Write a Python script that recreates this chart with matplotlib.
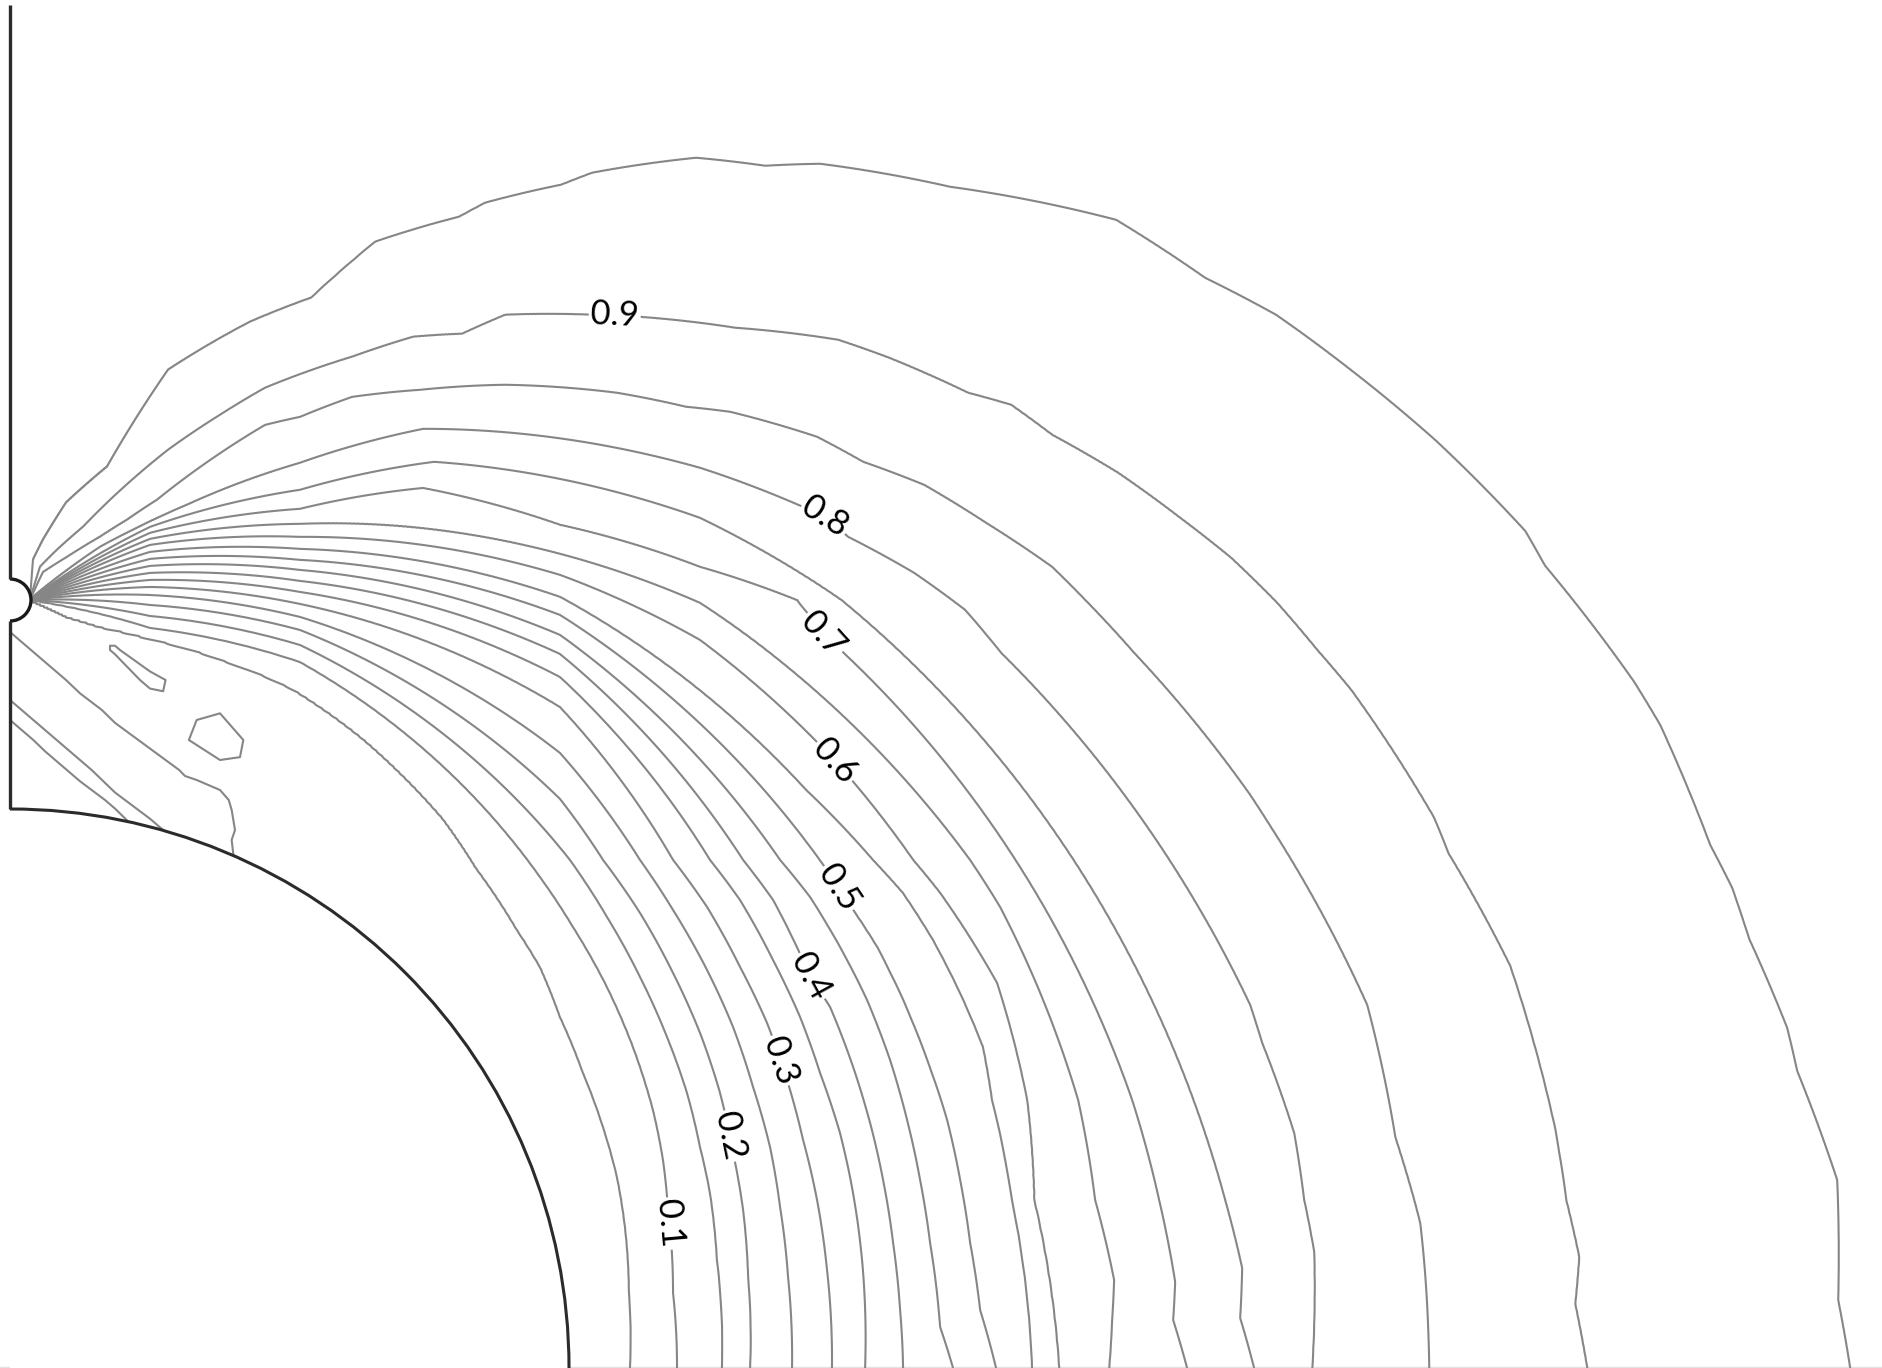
import numpy as np
import matplotlib
matplotlib.use("Agg")
import matplotlib.pyplot as plt
import matplotlib.tri as mtri
from matplotlib.patches import Wedge, Arc

plt.rcParams['font.family'] = ['Lato', 'DejaVu Sans']

# Geometry (lengths in cm; origin at the centre of the grounded sphere)
SPHERE_RADIUS = 5.59
TIP_CENTER_Y = 7.68
TIP_RADIUS = 0.21
WALL_TOP = 13.63
TIP_POINT = (0.20, 7.68)          # where every isoline leaves the needle tip

LEVELS = [0.05, 0.10, 0.15, 0.20, 0.25, 0.30, 0.35, 0.40, 0.45, 0.50,
          0.55, 0.60, 0.65, 0.70, 0.75, 0.80, 0.85, 0.90, 0.95]
LABEL_LEVELS = [0.10, 0.20, 0.30, 0.40, 0.50, 0.60, 0.70, 0.80, 0.90]
LABEL_POS = [(6.55, 1.44), (7.15, 2.31), (7.63, 3.05), (8.00, 3.91), (8.30, 4.81),
             (8.25, 6.07), (8.13, 7.34), (8.15, 8.51), (6.05, 10.50)]

# Isoline positions (x, y) of the normalised potential
ISO_005 = [(6.20, 0.00), (6.19, 0.75), (6.15, 1.41), (6.07, 1.91), (5.93, 2.41), (5.73, 2.95),
           (5.50, 3.51), (5.30, 4.01), (5.07, 4.38), (4.66, 5.00), (4.33, 5.49), (3.88, 5.97),
           (3.53, 6.29), (3.23, 6.52), (2.84, 6.78), (2.47, 6.95), (2.17, 7.06), (1.82, 7.18),
           (1.40, 7.29), (0.90, 7.41), (0.57, 7.51)]
ISO_010 = [(6.67, 0.00), (6.63, 0.75), (6.58, 1.58), (6.53, 2.08), (6.43, 2.58), (6.23, 3.21),
           (5.97, 3.81), (5.63, 4.41), (5.30, 4.91), (2.90, 7.06), (1.40, 7.40)]
ISO_015 = [(7.12, 0.00), (7.07, 1.08), (7.00, 1.75), (6.90, 2.21), (6.77, 2.75), (6.57, 3.31),
           (6.30, 3.91), (5.97, 4.51), (5.60, 5.08), (2.90, 7.23), (1.40, 7.52)]
ISO_020 = [(7.40, 0.00), (7.38, 0.91), (7.33, 1.58), (7.23, 2.15), (7.10, 2.75), (6.90, 3.35),
           (6.63, 3.95), (6.30, 4.55), (5.93, 5.08), (5.50, 5.69), (2.90, 7.38), (1.40, 7.63)]
ISO_025 = [(7.82, 0.00), (7.78, 0.91), (7.70, 1.61), (7.60, 2.21), (7.43, 2.81), (7.23, 3.41),
           (6.97, 3.98), (6.63, 4.58), (6.30, 5.08), (5.50, 6.15), (2.90, 7.51), (1.40, 7.73)]
ISO_030 = [(8.22, 0.00), (8.17, 0.98), (8.07, 1.68), (7.93, 2.28), (7.77, 2.88), (7.57, 3.45),
           (7.30, 4.01), (6.97, 4.61), (6.63, 5.08), (5.50, 6.61), (2.90, 7.64), (1.40, 7.81)]
ISO_035 = [(8.55, 0.00), (8.52, 1.08), (8.43, 1.75), (8.30, 2.35), (8.10, 2.95), (7.90, 3.51),
           (7.63, 4.08), (7.30, 4.68), (7.00, 5.08), (5.50, 6.91), (2.90, 7.76), (1.40, 7.88)]
ISO_040 = [(8.93, 0.00), (8.90, 0.58), (8.83, 1.25), (8.73, 1.88), (8.60, 2.45), (8.43, 3.01),
           (8.20, 3.61), (8.00, 3.91), (7.63, 4.68), (7.33, 5.08), (5.50, 7.14), (2.90, 7.87),
           (1.40, 7.95)]
ISO_045 = [(9.43, 0.00), (9.30, 0.41), (9.20, 1.25), (9.10, 1.88), (8.97, 2.48), (8.80, 3.08),
           (8.57, 3.68), (8.30, 4.21), (8.00, 4.71), (7.70, 5.08), (5.50, 7.33), (2.90, 7.98),
           (1.40, 8.02)]
ISO_050 = [(9.86, 0.00), (9.70, 0.58), (9.60, 1.25), (9.50, 1.88), (9.37, 2.48), (9.17, 3.08),
           (8.93, 3.68), (8.67, 4.21), (8.43, 4.58), (8.31, 4.77), (5.50, 7.53), (2.90, 8.08),
           (1.40, 8.09)]
ISO_055 = [(10.22, 0.00), (10.02, 1.68), (9.82, 2.68), (9.73, 3.21), (9.50, 3.75), (9.23, 4.28),
           (8.93, 4.75), (8.63, 5.08), (7.96, 5.78), (5.50, 7.71), (2.90, 8.19), (1.40, 8.16)]
ISO_060 = [(10.49, 0.00), (10.24, 1.68), (10.17, 2.68), (9.87, 3.85), (9.57, 4.35), (9.30, 4.75),
           (9.03, 5.08), (8.25, 6.07), (6.90, 7.28), (5.50, 7.93), (2.90, 8.31), (1.40, 8.23)]
ISO_065 = [(10.99, 0.00), (11.02, 0.48), (11.04, 0.88), (10.85, 1.68), (10.68, 2.68), (9.90, 4.61),
           (9.60, 5.08), (6.90, 7.65), (5.50, 8.14), (2.90, 8.44), (1.40, 8.29)]
ISO_070 = [(11.77, 0.00), (11.63, 0.48), (11.65, 0.86), (11.49, 1.68), (11.22, 2.68), (8.13, 7.34),
           (7.87, 7.68), (6.90, 8.01), (5.50, 8.43), (4.13, 8.80), (2.90, 8.59), (1.40, 8.35)]
ISO_075 = [(12.44, 0.00), (12.30, 0.50), (12.32, 1.00), (12.15, 1.68), (8.31, 7.68), (6.90, 8.50),
           (4.24, 9.06), (2.90, 8.78), (1.40, 8.41)]
ISO_080 = [(13.02, 0.00), (13.04, 1.16), (12.94, 1.68), (12.84, 2.35), (12.52, 3.25), (12.40, 3.63),
           (9.91, 7.15), (9.55, 7.58), (9.04, 7.95), (8.38, 8.31), (8.15, 8.51), (6.90, 9.00),
           (4.13, 9.39), (2.90, 9.05), (1.77, 8.63), (1.50, 8.51), (1.23, 8.38), (0.90, 8.21)]
ISO_085 = [(14.19, 0.00), (14.10, 1.45), (14.04, 1.68), (13.85, 2.31), (13.57, 3.63), (12.60, 5.42),
           (12.40, 5.73), (11.24, 7.15), (10.75, 7.68), (10.42, 8.01), (9.76, 8.45), (9.14, 8.83),
           (8.53, 9.06), (8.07, 9.31), (7.20, 9.56), (6.76, 9.61), (6.07, 9.75), (4.95, 9.83),
           (4.10, 9.78), (3.42, 9.71), (2.90, 9.51), (2.55, 9.43), (1.47, 8.68), (1.17, 8.48),
           (0.90, 8.31), (0.57, 8.11), (0.33, 7.96)]
ISO_090 = [(15.77, 0.00), (15.65, 0.64), (15.69, 1.11), (15.56, 1.68), (15.45, 2.39), (15.00, 4.02),
           (14.38, 5.15), (14.24, 5.50), (13.41, 6.78), (13.07, 7.18), (12.67, 7.65), (12.21, 8.10),
           (11.70, 8.50), (11.08, 8.95), (10.42, 9.33), (10.01, 9.63), (9.58, 9.75), (8.79, 10.10),
           (8.28, 10.28), (7.25, 10.40), (6.28, 10.51), (5.82, 10.53), (4.95, 10.53), (4.52, 10.34),
           (4.03, 10.31), (3.42, 10.11), (2.55, 9.80), (2.10, 9.53), (1.58, 9.18), (1.00, 8.68),
           (0.73, 8.41), (0.47, 8.18), (0.30, 8.01)]
ISO_095 = [(18.40, 0.00), (18.28, 0.68), (18.27, 1.88), (17.87, 2.97), (17.77, 3.40), (17.39, 4.29),
           (17.22, 4.80), (17.00, 5.23), (16.50, 6.43), (16.24, 6.86), (15.35, 8.02), (15.15, 8.37),
           (14.26, 9.27), (13.38, 10.00), (12.66, 10.53), (11.95, 10.90), (11.06, 11.48),
           (9.40, 11.81), (8.10, 12.04), (7.55, 12.02), (6.86, 12.10), (5.82, 11.95), (5.51, 11.83),
           (4.75, 11.65), (4.49, 11.51), (3.65, 11.26), (3.01, 10.70), (2.40, 10.46), (1.58, 9.98),
           (0.97, 9.01), (0.56, 8.65), (0.33, 8.28), (0.23, 8.08)]

ISOLINES = [ISO_005, ISO_010, ISO_015, ISO_020, ISO_025, ISO_030, ISO_035, ISO_040, ISO_045,
            ISO_050, ISO_055, ISO_060, ISO_065, ISO_070, ISO_075, ISO_080, ISO_085, ISO_090,
            ISO_095]

# Coarse-mesh nodal values of the near-zero region under the tip
NOISE_X = [0.0, 0.35, 0.70, 1.05, 1.40, 1.75, 2.10, 2.45]
NOISE_Y = [7.48, 7.18, 6.88, 6.58, 6.28, 5.98, 5.68, 5.38, 5.08]
NOISE_VALUES = [
    [0.030, 0.020, 0.020, 0.020, 0.020, 0.020, 0.020, 0.020],
    [0.080, 0.030, 0.020, 0.055, 0.020, 0.020, 0.020, 0.020],
    [0.080, 0.080, 0.030, 0.020, 0.062, 0.035, 0.020, 0.020],
    [0.035, 0.080, 0.075, 0.035, 0.020, 0.030, 0.045, 0.020],
    [0.080, 0.035, 0.080, 0.070, 0.040, 0.045, 0.090, 0.030],
    [0.080, 0.075, 0.035, 0.080, 0.075, 0.045, 0.030, 0.020],
    [0.080, 0.080, 0.075, 0.040, 0.075, 0.070, 0.060, 0.020],
    [0.080, 0.080, 0.080, 0.075, 0.035, 0.075, 0.065, 0.030],
    [0.080, 0.080, 0.080, 0.080, 0.080, 0.040, 0.070, 0.020],
]

# ---- potential field on a polar grid about the sphere centre ----
theta = np.concatenate([np.linspace(0.0, 80.0, 1600, endpoint=False),
                        np.linspace(80.0, 90.0, 1251)])
rad = np.linspace(SPHERE_RADIUS, 23.4, 1190)
lev = np.array(LEVELS)

r_iso = np.empty((lev.size, theta.size))
for k, line in enumerate(ISOLINES):
    pts = np.array(line + [TIP_POINT])
    ang = np.degrees(np.arctan2(pts[:, 1], pts[:, 0]))
    rr = np.hypot(pts[:, 0], pts[:, 1])
    order = np.argsort(ang)
    r_iso[k] = np.interp(theta, ang[order], rr[order])
r_iso = np.maximum.accumulate(r_iso, axis=0) + np.arange(lev.size)[:, None] * 1e-4

fp = np.concatenate([[0.0], lev, [1.0]])
Z = np.empty((theta.size, rad.size))
for i in range(theta.size):
    xp = np.concatenate([[SPHERE_RADIUS], r_iso[:, i], [r_iso[-1, i] + 3.0]])
    Z[i] = np.interp(rad, xp, fp)

th = np.radians(theta)[:, None]
XX = rad[None, :] * np.cos(th)
YY = rad[None, :] * np.sin(th)

# ---- figure ----
fig = plt.figure(figsize=(18.83, 13.68), dpi=100)
ax = fig.add_axes([0, 0, 1, 1])
ax.set_xlim(-0.10, 18.73)
ax.set_ylim(0.0, 13.68)
ax.set_axis_off()

line_color = '#868686'
line_width = 1.5
plain_levels = [v for v in LEVELS if min(abs(v - w) for w in LABEL_LEVELS) > 1e-9]
ax.contour(XX, YY, Z, levels=plain_levels, colors=line_color, linewidths=line_width, zorder=2)
cs = ax.contour(XX, YY, Z, levels=LABEL_LEVELS, colors=line_color, linewidths=line_width,
                zorder=2)

# noisy isolines of the coarse mesh below the tip (cells split along the down-right diagonal)
nx, ny = len(NOISE_X), len(NOISE_Y)
gx, gy = np.meshgrid(NOISE_X, NOISE_Y)
tris = []
for j in range(ny - 1):
    for i in range(nx - 1):
        a = j * nx + i
        b, c, d = a + 1, a + nx, a + nx + 1
        tris += [[a, b, d], [a, d, c]]
tri = mtri.Triangulation(gx.ravel(), gy.ravel(), np.array(tris))
ax.tricontour(tri, np.array(NOISE_VALUES).ravel(), levels=[0.05],
              colors=line_color, linewidths=line_width, zorder=2)

# sphere, needle tip and symmetry wall
ax.add_patch(Wedge((0, 0), SPHERE_RADIUS, 0, 90, facecolor='white', edgecolor='none', zorder=3))
ax.add_patch(Arc((0, 0), 2 * SPHERE_RADIUS, 2 * SPHERE_RADIUS, theta1=0, theta2=90,
                 color='#2b2b2b', lw=2.2, zorder=4))
ax.add_patch(Wedge((0, TIP_CENTER_Y), TIP_RADIUS, -90, 90, facecolor='white',
                   edgecolor='none', zorder=3))
ax.add_patch(Arc((0, TIP_CENTER_Y), 2 * TIP_RADIUS, 2 * TIP_RADIUS, theta1=-90, theta2=90,
                 color='#1a1a1a', lw=2.4, zorder=4))
ax.plot([0, 0], [TIP_CENTER_Y + TIP_RADIUS, WALL_TOP], color='#2b2b2b', lw=2.4, zorder=4,
        solid_capstyle='butt')
ax.plot([0, 0], [SPHERE_RADIUS, TIP_CENTER_Y - TIP_RADIUS], color='#2b2b2b', lw=2.4, zorder=4,
        solid_capstyle='butt')
ax.plot([-0.1, 18.73], [0.006, 0.006], color='#e2e2e2', lw=1.0, zorder=1)

ax.clabel(cs, manual=LABEL_POS, fmt='%.1f', fontsize=25,
          colors='black', inline=True, inline_spacing=2)

fig.savefig('out.png', dpi=100, facecolor='white')
